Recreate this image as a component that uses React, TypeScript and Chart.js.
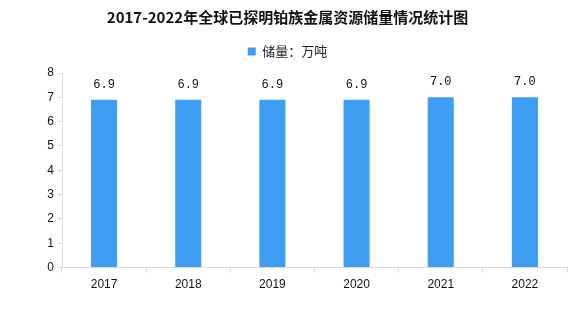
import React, { useEffect, useRef } from "react";
import { Chart, registerables } from "chart.js";

Chart.register(...registerables);

const TITLE = "2017-2022年全球已探明铂族金属资源储量情况统计图";
const SERIES_LABEL = "储量：万吨";
const YEARS = ["2017", "2018", "2019", "2020", "2021", "2022"];
const RESERVES = [6.9, 6.9, 6.9, 6.9, 7.0, 7.0];
const Y_MIN = 0;
const Y_MAX = 8;

const BAR_COLOR = "#3e9ef4";
const AXIS_COLOR = "#d9d9d9";

const valueLabels = {
  id: "valueLabels",
  afterDatasetsDraw(chart: any) {
    const ctx = chart.ctx;
    const meta = chart.getDatasetMeta(0);
    ctx.save();
    ctx.font = "12px 'Liberation Mono', monospace";
    ctx.fillStyle = "#111";
    ctx.textAlign = "center";
    ctx.textBaseline = "middle";
    meta.data.forEach((bar: any, i: number) => {
      const v = chart.data.datasets[0].data[i] as number;
      ctx.fillText(v.toFixed(1), bar.x, bar.y - 15);
    });
    ctx.restore();
  },
};

const legendGap = {
  id: "legendGap",
  beforeInit(chart: any) {
    const legend = chart.legend;
    if (!legend) return;
    const origFit = legend.fit;
    legend.fit = function () {
      origFit.call(this);
      this.height += 5;
    };
  },
};

export default function App() {
  const ref = useRef<HTMLCanvasElement | null>(null);
  useEffect(() => {
    if (!ref.current) return;
    const chart = new Chart(ref.current, {
      type: "bar",
      data: {
        labels: YEARS,
        datasets: [
          {
            label: SERIES_LABEL,
            data: RESERVES,
            backgroundColor: BAR_COLOR,
            borderWidth: 0,
            categoryPercentage: 1,
            barPercentage: 0.31,
          },
        ],
      },
      options: {
        animation: false,
        responsive: false,
        maintainAspectRatio: false,
        layout: { padding: { left: 8, right: 9, top: 0, bottom: 30 } },
        plugins: {
          title: {
            display: true,
            text: TITLE,
            color: "#111",
            font: { family: "'Noto Sans CJK SC', sans-serif", size: 15, weight: "bold" },
            padding: { top: 8, bottom: 9 },
          },
          legend: {
            display: true,
            labels: {
              boxWidth: 8,
              boxHeight: 8,
              color: "#222",
              font: { family: "'Noto Sans CJK SC', sans-serif", size: 13 },
              padding: 10,
            },
          },
          tooltip: { enabled: false },
        },
        scales: {
          x: {
            grid: {
              display: true,
              drawOnChartArea: false,
              drawTicks: true,
              tickLength: 5,
              color: AXIS_COLOR,
              offset: true,
            },
            border: { display: true, color: AXIS_COLOR },
            ticks: {
              color: "#111",
              font: { family: "'Liberation Sans', sans-serif", size: 12 },
              padding: 5,
            },
          },
          y: {
            min: Y_MIN,
            max: Y_MAX,
            grid: {
              display: true,
              drawOnChartArea: false,
              drawTicks: true,
              tickLength: 4,
              color: AXIS_COLOR,
            },
            border: { display: true, color: AXIS_COLOR },
            ticks: {
              stepSize: 1,
              color: "#111",
              font: { family: "'Liberation Sans', sans-serif", size: 12 },
              padding: 4,
            },
            afterFit: (s: any) => {
              s.width = 54;
            },
          },
        },
      },
      plugins: [valueLabels, legendGap],
    });
    return () => chart.destroy();
  }, []);
  return (
    <div style={{ position: "fixed", left: 0, top: 0, width: 576, height: 327, background: "#fff" }}>
      <canvas ref={ref} width={576} height={327} />
    </div>
  );
}
